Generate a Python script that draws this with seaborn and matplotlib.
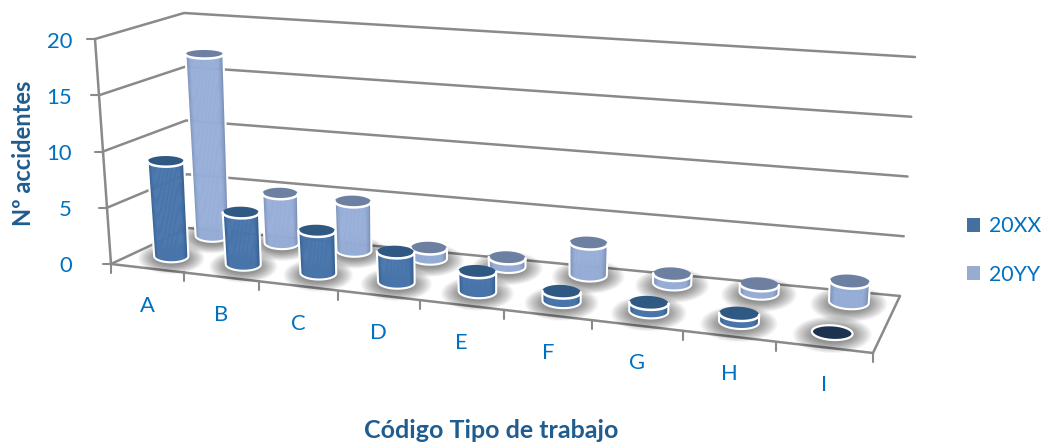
import numpy as np
import pandas as pd
import matplotlib
matplotlib.use("Agg")
import matplotlib.pyplot as plt
from matplotlib.collections import PolyCollection
from matplotlib.patches import Patch, Polygon
import seaborn as sns

# Accident counts per work-type code
categories = ["A", "B", "C", "D", "E", "F", "G", "H", "I"]
counts_xx = [8.5, 4.6, 3.7, 2.6, 1.7, 0.8, 0.7, 0.65, 0]
counts_yy = [16.7, 4.5, 4.4, 0.9, 0.75, 2.75, 0.8, 0.7, 1.7]
y_ticks = [0, 5, 10, 15, 20]

BLUE = "#0070C0"
TITLE = "#1F5C8F"
GRID = "#8A8A8A"

sns.set_theme(style="white")
plt.rcParams["font.family"] = ["Lato", "DejaVu Sans"]

fig = plt.figure(figsize=(10.42, 4.43), dpi=100)
ax = fig.add_axes([0, 0, 1, 1])
ax.set_xlim(0, 1042)
ax.set_ylim(443, 0)
ax.axis("off")

# Chart box: corners (front-left, front-right, back-right, back-left) of the
# floor plane and of the plane at the axis maximum
FLOOR = np.array([(111, 264), (873, 353), (900, 296), (188, 228)], float)
CEILING = np.array([(95, 39), (880, 100), (915, 57), (184, 13)], float)
Y_MAX = y_ticks[-1]
FORESHORTEN = 0.16


def plane_point(corners, u, v):
    s = u + FORESHORTEN * u * (u - 1)
    front = corners[0] + (corners[1] - corners[0]) * s
    back = corners[3] + (corners[2] - corners[3]) * s
    return front + (back - front) * v


def project(u, v, value):
    """Box coordinates (category axis, depth, value) to figure pixels."""
    low, high = plane_point(FLOOR, u, v), plane_point(CEILING, u, v)
    return low + (high - low) * value / Y_MAX


n = len(categories)

# Wall gridlines and box edges
segments = []
for tick in y_ticks:
    segments.append([(0, 0, tick), (0, 1, tick), (1, 1, tick)])
segments.append([(0, 0, 0), (1, 0, 0), (1, 1, 0)])
segments.append([(0, 0, 0), (0, 0, Y_MAX)])
rows = []
for line_id, seg in enumerate(segments):
    for order, (u, v, z) in enumerate(seg):
        px = project(u, v, z)
        rows.append({"line": line_id, "order": order, "sx": px[0], "sy": px[1]})
sns.lineplot(data=pd.DataFrame(rows), x="sx", y="sy", units="line", estimator=None,
             sort=False, color=GRID, lw=1.8, legend=False, ax=ax, zorder=1)
ax.set_xlabel("")
ax.set_ylabel("")
ax.set_xlim(0, 1042)
ax.set_ylim(443, 0)

# Tick marks and labels
for tick in y_ticks:
    px = project(0, 0, tick)
    ax.plot([px[0] - 8, px[0]], [px[1], px[1]], color=GRID, lw=1.5, zorder=1)
    ax.text(72, px[1] + 2.5, str(tick), ha="right", va="center", color=BLUE, fontsize=15.8)
for i in range(n + 1):
    px = project(i / n, 0, 0)
    ax.plot([px[0], px[0]], [px[1], px[1] + 9], color=GRID, lw=1.5, zorder=1)
for i, name in enumerate(categories):
    px = project((i + 0.5) / n, 0, 0)
    ax.text(px[0], px[1] + 38, name, ha="center", va="center", color=BLUE, fontsize=15.8)

ax.text(24, 153, "Nº accidentes", rotation=90, ha="center", va="center",
        color=TITLE, fontsize=17, fontweight="bold")
ax.text(491, 431, "Código Tipo de trabajo", ha="center", va="center",
        color=TITLE, fontsize=18, fontweight="bold")


def ellipse(center, a, b, tilt, t):
    return np.column_stack([center[0] + a * np.cos(t),
                            center[1] + b * np.sin(t) + a * np.cos(t) * tilt])


def half_axes(u, v, value):
    left, right = project(u - 0.5 / n, v, 0), project(u + 0.5 / n, v, 0)
    a = (7.5 + 0.135 * abs(right[0] - left[0])) * (1 + 0.008 * value)
    return a, a * (0.36 - 0.16 * value / Y_MAX)


def draw_shadow(u, v):
    base = project(u, v, 0)
    a, b = half_axes(u, v, 0)
    t = np.linspace(0, 2 * np.pi, 60)
    for scale in np.linspace(1.95, 1.0, 18):
        pts = ellipse(base + [0, 2], a * scale, (b + 1) * (1 + (scale - 1) * 1.3), 0, t)
        ax.add_patch(Polygon(pts, closed=True, fc="black", ec="none", alpha=0.027, zorder=2))


def draw_cylinder(u, v, value, mid, edge, top, z):
    base = project(u, v, 0)
    # The upright axis leans outward towards the left of the box
    head = project(u, v, value) + [-0.3 * value * v * (1 - u), 0]
    a0, b0 = half_axes(u, v, 0)
    a1, b1 = half_axes(u, v, value)
    tilt = 0.06 * u
    if value == 0:
        t = np.linspace(0, 2 * np.pi, 80)
        ax.add_patch(Polygon(ellipse(base, a0, b0, tilt, t), closed=True, fc="#1C3350",
                             ec="white", lw=1.6, zorder=z))
        return
    # Body: vertical strips shaded from the edges towards a bright centre
    shades = sns.blend_palette([edge, mid, mid, mid, edge], 41)
    t = np.linspace(np.pi, 0, 42)
    lo = ellipse(base, a0, b0, tilt, t)
    hi = ellipse(head, a1, b1, tilt, t)
    strips = [[lo[k], lo[k + 1], hi[k + 1], hi[k]] for k in range(41)]
    ax.add_collection(PolyCollection(strips, facecolors=shades, edgecolors=shades,
                                     linewidths=0.4, zorder=z))
    # Cap and white rim
    whole = np.linspace(0, 2 * np.pi, 80)
    ax.add_patch(Polygon(ellipse(head, a1, b1, tilt, whole), closed=True, fc=top,
                         ec="none", zorder=z + 0.1))
    outline = np.vstack([hi[:1], lo, hi[-1:]])
    ax.plot(outline[:, 0], outline[:, 1], color="white", lw=1.5, zorder=z + 0.2)
    ax.plot(hi[:, 0], hi[:, 1], color="white", lw=1.8, zorder=z + 0.2)


def bar_depth(depth, u):
    # Rows drift slightly towards the viewer along the category axis
    return depth - 0.07 * u


DEPTH_XX, DEPTH_YY = 0.33, 0.88
series = [
    (counts_yy, DEPTH_YY, "#97AED8", "#6A7FA3", "#6E80A2", 3),
    (counts_xx, DEPTH_XX, "#4674AB", "#2C5482", "#2F5882", 20),
]
for values, depth, *_ in series:
    for i in range(n):
        u = (i + 0.5) / n
        draw_shadow(u, bar_depth(depth, u))
for values, depth, mid, edge, top, base_z in series:
    for i, val in enumerate(values):
        u = (i + 0.5) / n
        draw_cylinder(u, bar_depth(depth, u), val, mid, edge, top, base_z + i * 0.5)

# Legend
legend_handles = [Patch(fc="#44709F", ec="none", label="20XX"),
                  Patch(fc="#98ABD0", ec="none", label="20YY")]
ax.legend(handles=legend_handles, loc="center left", bbox_to_anchor=(967 / 1042, 1 - 250.5 / 443),
          frameon=False, handlelength=0.62, handleheight=0.62, handletextpad=0.42,
          labelspacing=1.35, labelcolor=BLUE, fontsize=15.3, borderpad=0, borderaxespad=0)

fig.savefig("out.png", dpi=100, facecolor="white")
